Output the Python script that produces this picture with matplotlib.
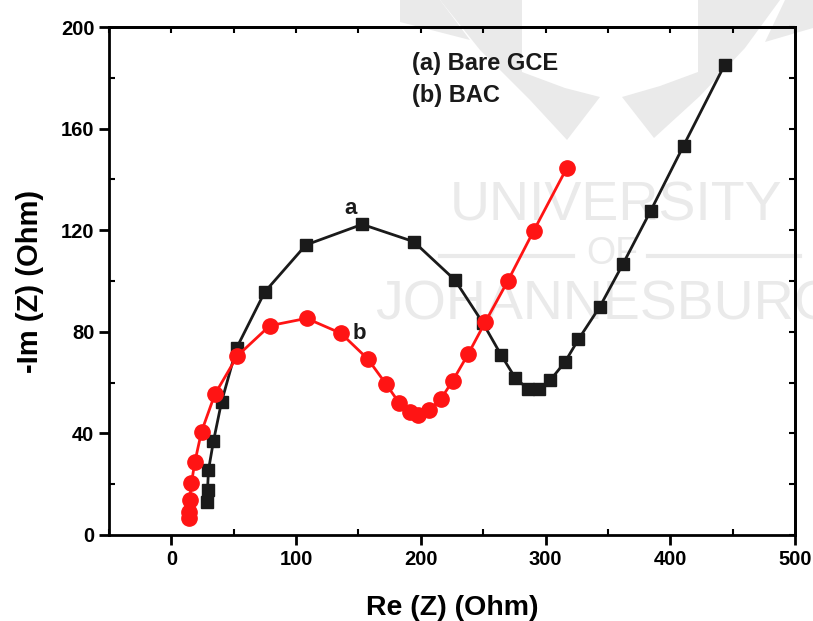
import matplotlib
matplotlib.use('Agg')
import matplotlib.pyplot as plt
from matplotlib.ticker import MultipleLocator
from matplotlib.patches import Polygon

plt.rcParams['font.family'] = ['Liberation Sans', 'DejaVu Sans']
plt.rcParams['font.weight'] = 'bold'

# (a) bare GCE
re_a = [28.7, 29.0, 29.8, 33.8, 40.3, 52.3, 74.9, 107.9, 153.0, 194.3, 227.3,
        249.6, 264.3, 275.6, 285.8, 294.4, 303.8, 315.4, 326.3, 343.5, 362.0,
        384.3, 410.6, 443.4]
im_a = [13.0, 17.7, 25.6, 37.0, 52.5, 73.6, 95.7, 114.2, 122.3, 115.5, 100.4,
        83.6, 70.9, 61.9, 57.5, 57.4, 61.0, 68.0, 77.0, 89.9, 106.7,
        127.7, 153.3, 185.0]

# (b) BAC
re_b = [13.9, 13.9, 14.7, 16.1, 18.8, 24.2, 34.9, 52.9, 78.9, 108.4, 136.0,
        157.5, 172.3, 182.5, 191.0, 197.8, 206.7, 216.0, 225.4, 238.0, 251.5,
        269.7, 290.4, 317.0]
im_b = [6.6, 9.2, 13.8, 20.3, 28.6, 40.7, 55.4, 70.5, 82.4, 85.3, 79.4,
        69.3, 59.3, 52.1, 48.3, 47.2, 49.2, 53.5, 60.6, 71.3, 83.7,
        100.0, 119.7, 144.5]

W, H = 813, 621
fig = plt.figure(figsize=(W / 100, H / 100), dpi=100)
ax = fig.add_axes([0.134, 0.1385, 0.844, 0.818])
ax.patch.set_alpha(0)

# watermark (university logo), drawn in figure pixels behind the axes
wm = '#eaeaea'
def px(pts):
    return [(x / W, 1 - y / H) for x, y in pts]
wings = [
    [(440, 0), (522, 0), (522, 72), (565, 88), (600, 97), (567, 140),
     (530, 100), (480, 50)],
    [(698, 0), (780, 0), (745, 48), (700, 96), (654, 138), (622, 97),
     (660, 86), (698, 72)],
    [(400, 0), (440, 0), (470, 40), (400, 22)],
    [(785, 0), (813, 0), (813, 28), (765, 42)],
]
for w in wings:
    fig.patches.append(Polygon(px(w), closed=True, transform=fig.transFigure,
                               facecolor=wm, edgecolor='none', zorder=-5))
fig.text(450 / W, 1 - 207 / H, 'UNIVERSITY', fontsize=40, fontweight='normal',
         color=wm, ha='left', va='center', zorder=-5)
fig.text(612 / W, 1 - 254 / H, 'OF', fontsize=27, fontweight='normal',
         color=wm, ha='center', va='center', zorder=-5)
fig.lines.append(plt.Line2D([440 / W, 573 / W], [1 - 256 / H] * 2,
                            transform=fig.transFigure, color=wm, lw=3,
                            zorder=-5))
fig.lines.append(plt.Line2D([648 / W, 800 / W], [1 - 256 / H] * 2,
                            transform=fig.transFigure, color=wm, lw=3,
                            zorder=-5))
fig.text(375 / W, 1 - 305 / H, 'JOHANNESBURG', fontsize=40, fontweight='normal',
         color=wm, ha='left', va='center', zorder=-5)

ax.plot(re_a, im_a, '-s', color='#1a1a1a', lw=2.0, ms=9, zorder=3)
ax.plot(re_b, im_b, '-o', color='#ff1414', lw=2.0, ms=11, zorder=4)

ax.text(144, 128.5, 'a', fontsize=16, ha='center', va='center', color='#1a1a1a')
ax.text(150.5, 79.5, 'b', fontsize=16, ha='center', va='center', color='#1a1a1a')
ax.text(193, 185.8, '(a) Bare GCE', fontsize=17, ha='left', va='center',
        color='#1a1a1a')
ax.text(193, 173.2, '(b) BAC', fontsize=17, ha='left', va='center',
        color='#1a1a1a')

ax.set_xlim(-50, 500)
ax.set_ylim(0, 200)
ax.xaxis.set_major_locator(MultipleLocator(100))
ax.xaxis.set_minor_locator(MultipleLocator(50))
ax.yaxis.set_major_locator(MultipleLocator(40))
ax.yaxis.set_minor_locator(MultipleLocator(20))
ax.tick_params(which='major', direction='out', length=7, width=2,
               labelsize=14.5)
ax.tick_params(which='minor', direction='in', length=4, width=1.5)
for lab in ax.get_xticklabels() + ax.get_yticklabels():
    lab.set_fontweight('bold')
for s in ax.spines.values():
    s.set_linewidth(2)

# inward ticks on the top and right frame
top = ax.secondary_xaxis('top')
top.xaxis.set_major_locator(MultipleLocator(50))
top.tick_params(direction='in', length=4, width=1.5, labeltop=False)
right = ax.secondary_yaxis('right')
right.yaxis.set_major_locator(MultipleLocator(20))
right.tick_params(direction='in', length=4, width=1.5, labelright=False)
for sec in (top, right):
    for s in sec.spines.values():
        s.set_linewidth(2)

ax.set_xlabel('Re (Z) (Ohm)', fontsize=20.5, fontweight='bold', labelpad=19)
ax.set_ylabel('-Im (Z) (Ohm)', fontsize=21, fontweight='bold', labelpad=12)

fig.savefig('out.png', dpi=100)
